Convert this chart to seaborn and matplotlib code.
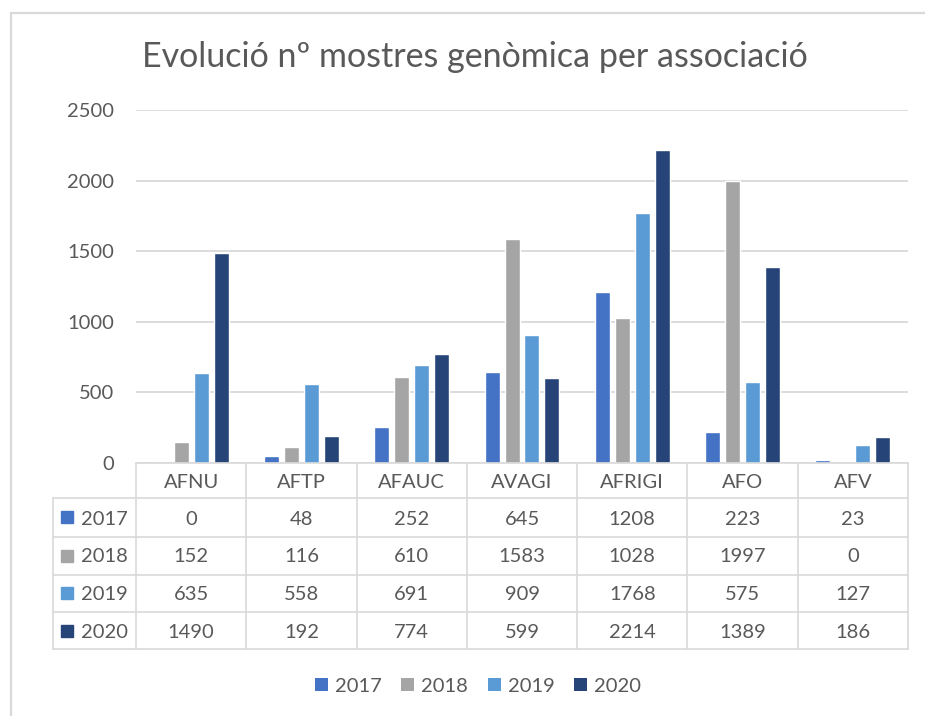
import matplotlib
matplotlib.use("Agg")
import matplotlib.pyplot as plt
import matplotlib.transforms as mtransforms
from matplotlib.patches import Rectangle, Patch
import seaborn as sns
import pandas as pd

categories = ["AFNU", "AFTP", "AFAUC", "AVAGI", "AFRIGI", "AFO", "AFV"]
years = ["2017", "2018", "2019", "2020"]
v2017 = [0, 48, 252, 645, 1208, 223, 23]
v2018 = [152, 116, 610, 1583, 1028, 1997, 0]
v2019 = [635, 558, 691, 909, 1768, 575, 127]
v2020 = [1490, 192, 774, 599, 2214, 1389, 186]
colors = ["#4472C4", "#A5A5A5", "#5B9BD5", "#264478"]
yticks = [0, 500, 1000, 1500, 2000, 2500]
title = "Evolució nº mostres genòmica per associació"

series = [v2017, v2018, v2019, v2020]
df = pd.DataFrame({
    "cat": [c for s in series for c in categories],
    "year": [y for y, s in zip(years, series) for _ in s],
    "val": [v for s in series for v in s],
})

W, H = 925, 716
TXT = "#595959"
LINE = "#D9D9D9"
FS = 14.5

sns.set_theme(style="white")
plt.rcParams['font.family'] = ['Lato', 'DejaVu Sans']

fig = plt.figure(figsize=(W / 100, H / 100), dpi=100)
def fx(px): return px / W
def fy(py): return 1 - py / H

# outer chart frame
fig.patches.append(Rectangle((fx(10.5), -0.2), 1.5, fy(13) + 0.2, transform=fig.transFigure,
                             fill=False, edgecolor=LINE, lw=1.6))

ax = fig.add_axes([fx(136), fy(463), fx(908) - fx(136), (463 - 110) / H])
sns.barplot(data=df, x="cat", y="val", hue="year", order=categories, hue_order=years,
            palette=colors, saturation=1, width=0.725, gap=0.25, errorbar=None,
            legend=False, ax=ax)
ax.set_xlim(-0.5, len(categories) - 0.5)
ax.set_ylim(0, 2500)
ax.set_yticks(yticks)
ax.set_yticklabels([str(t) for t in yticks])
ax.set_xticks([])
ax.set_xlabel("")
ax.set_ylabel("")
ax.yaxis.grid(True, color=LINE, lw=1.3)
ax.set_axisbelow(True)
for s in ["top", "right", "left"]:
    ax.spines[s].set_visible(False)
ax.spines["bottom"].set_color(LINE)
ax.spines["bottom"].set_linewidth(1.2)
ax.tick_params(axis="y", length=0, pad=16, labelsize=FS, labelcolor=TXT)

# data table below the axis
tr = mtransforms.blended_transform_factory(ax.transData, fig.transFigure)
cat_px = (908 - 136) / len(categories)
def dx(px): return (px - 136) / cat_px - 0.5

rows_px = [463, 498, 536.5, 574.5, 612, 649]
base_px = [488, 525, 562.5, 600, 637.5]
xl = dx(53)
xr = len(categories) - 0.5
lkw = dict(color=LINE, lw=1.2, transform=tr, clip_on=False)
for yp in rows_px[1:]:
    ax.plot([xl, xr], [fy(yp), fy(yp)], **lkw)
for i in range(len(categories) + 1):
    ax.plot([i - 0.5, i - 0.5], [fy(rows_px[0]), fy(rows_px[-1])], **lkw)
ax.plot([xl, xl], [fy(rows_px[1]), fy(rows_px[-1])], **lkw)

for i, c in enumerate(categories):
    ax.text(i, fy(base_px[0]), c, ha="center", va="baseline", fontsize=FS, color=TXT,
            transform=tr, clip_on=False)
for r, (y, s, col) in enumerate(zip(years, series, colors)):
    yb = fy(base_px[r + 1])
    ymid = fy((rows_px[r + 1] + rows_px[r + 2]) / 2)
    ax.plot([dx(67)], [ymid], marker="s", markersize=8, color=col, transform=tr,
            clip_on=False, linestyle="none")
    ax.text(dx(81), yb, y, ha="left", va="baseline", fontsize=FS, color=TXT,
            transform=tr, clip_on=False)
    for i, v in enumerate(s):
        ax.text(i, yb, str(v), ha="center", va="baseline", fontsize=FS, color=TXT,
                transform=tr, clip_on=False)

# legend
handles = [Patch(facecolor=c, edgecolor="none", label=y) for y, c in zip(years, colors)]
fig.legend(handles=handles, loc="center", bbox_to_anchor=(fx(478), fy(686)), ncol=4,
           frameon=False, handlelength=0.65, handleheight=0.65, handletextpad=0.35,
           columnspacing=0.95, fontsize=FS, labelcolor=TXT)

fig.text(fx(474.5), fy(67), title, ha="center", va="baseline", fontsize=24.5,
         color=TXT, family=["Lato", "DejaVu Sans"])

fig.savefig("out.png", dpi=100)
